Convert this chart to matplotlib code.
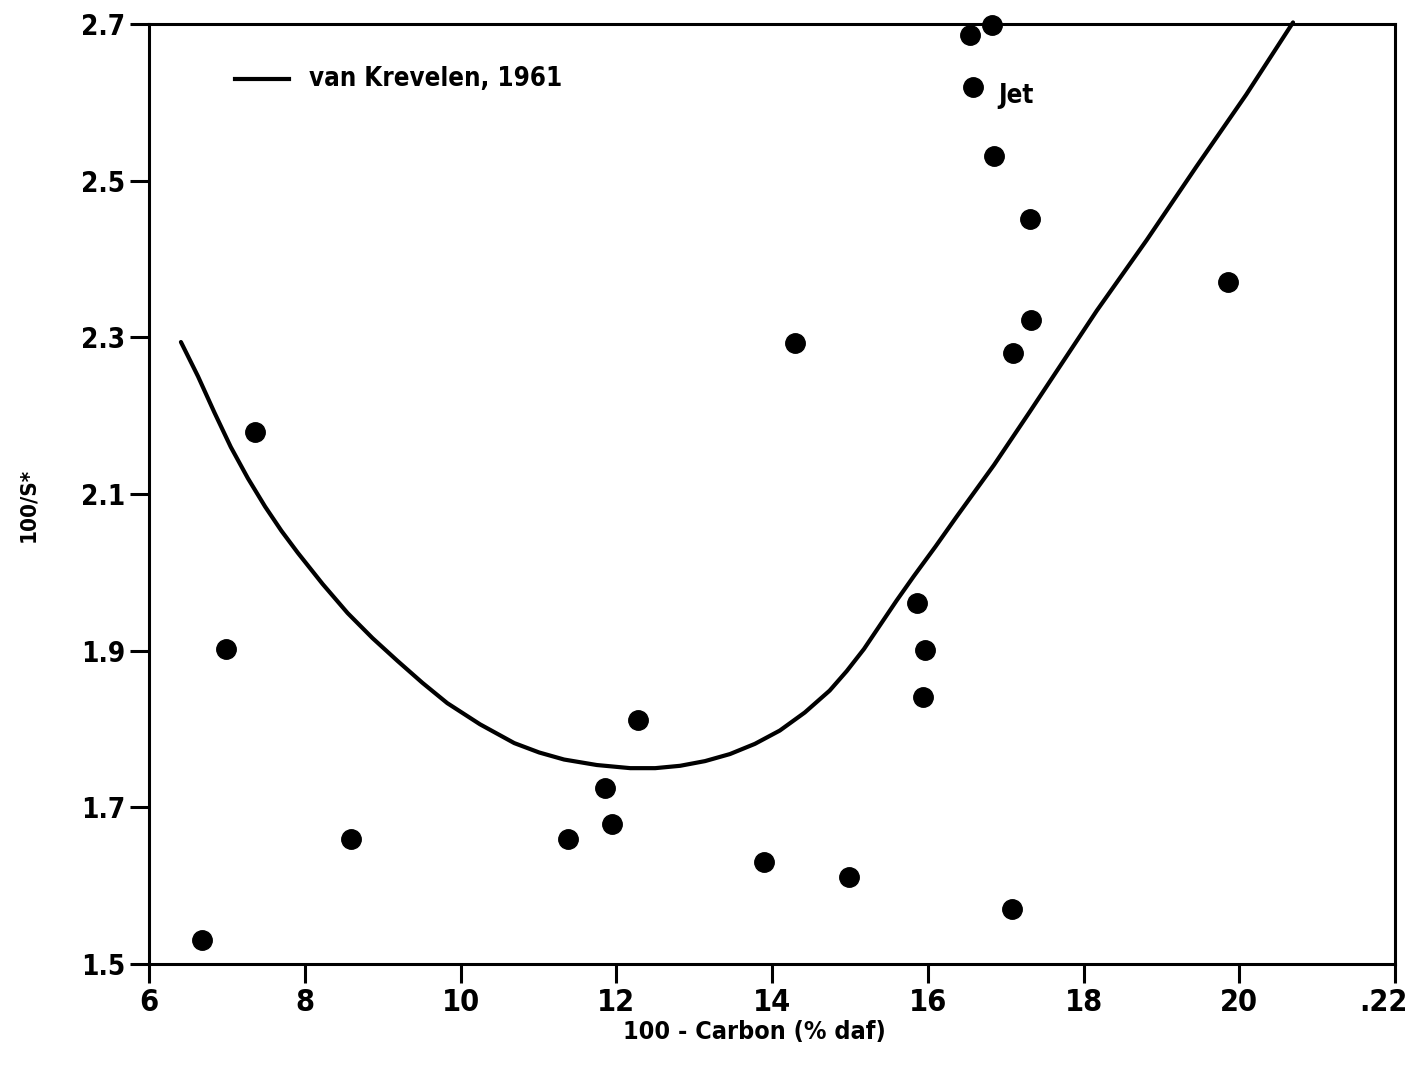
import matplotlib.pyplot as plt
from matplotlib.transforms import ScaledTranslation

# measured coals: 100 - carbon (% daf) vs 100/S*
carbon_diff = [6.68, 6.99, 7.36, 8.59, 11.38, 11.86, 11.95, 12.28, 13.90, 14.29,
               14.99, 15.86, 15.97, 15.94, 16.54, 16.83, 16.58, 16.85, 17.31,
               17.32, 17.09, 17.08, 19.86]
inv_s = [1.531, 1.902, 2.179, 1.660, 1.660, 1.725, 1.679, 1.812, 1.630, 2.293,
         1.611, 1.961, 1.901, 1.841, 2.686, 2.699, 2.620, 2.531, 2.451,
         2.322, 2.280, 1.570, 2.371]

# van Krevelen (1961) curve
vk_x = [6.41, 6.52, 6.63, 6.84, 7.05, 7.27, 7.49, 7.70, 7.91, 8.23, 8.55, 8.87,
        9.19, 9.51, 9.83, 10.25, 10.69, 11.01, 11.33, 11.75, 12.18, 12.50,
        12.82, 13.14, 13.46, 13.78, 14.10, 14.42, 14.74, 14.96, 15.18, 15.39,
        15.60, 15.82, 16.10, 16.37, 16.61, 16.85, 17.08, 17.31, 17.69, 18.17,
        18.81, 19.45, 20.09, 20.69]
vk_y = [2.294, 2.272, 2.250, 2.204, 2.160, 2.120, 2.084, 2.053, 2.025, 1.985,
        1.948, 1.916, 1.887, 1.859, 1.833, 1.806, 1.782, 1.770, 1.761, 1.754,
        1.750, 1.750, 1.753, 1.759, 1.768, 1.781, 1.798, 1.821, 1.849, 1.874,
        1.902, 1.933, 1.964, 1.995, 2.033, 2.071, 2.104, 2.137, 2.171, 2.205,
        2.262, 2.334, 2.424, 2.518, 2.610, 2.702]

jet_point = (16.58, 2.620)

x_ticks = [6, 8, 10, 12, 14, 16, 18, 20, 22]
x_tick_labels = ["6", "8", "10", "12", "14", "16", "18", "20", ".22"]
y_ticks = [1.5, 1.7, 1.9, 2.1, 2.3, 2.5, 2.7]

plt.rcParams["font.family"] = ["DejaVu Sans"]
plt.rcParams["font.weight"] = "bold"
plt.rcParams["font.stretch"] = "condensed"

fig = plt.figure(figsize=(14.15, 10.66), dpi=100)
ax = fig.add_axes([0.1053, 0.0957, 0.8806, 0.8818])

ax.plot(vk_x, vk_y, color="black", lw=3.0, solid_capstyle="round",
        solid_joinstyle="round", clip_on=False)
ax.plot(carbon_diff, inv_s, "o", color="black", ms=14, clip_on=False)

ax.text(jet_point[0] + 0.32, jet_point[1] - 0.012, "Jet", fontsize=18.5,
        fontweight="bold", ha="left", va="center")

# legend entry for the curve
ax.plot([7.1, 7.8], [2.63, 2.63], color="black", lw=3.0)
ax.text(8.05, 2.63, "van Krevelen, 1961", fontsize=18.5, fontweight="bold",
        ha="left", va="center")

ax.set_xlim(6, 22)
ax.set_ylim(1.5, 2.7)
ax.set_xticks(x_ticks)
ax.set_xticklabels(x_tick_labels)
ax.set_yticks(y_ticks)
ax.set_yticklabels([f"{v:.1f}" for v in y_ticks])
ax.tick_params(axis="both", direction="out", length=14, width=2.2, pad=3)
ax.tick_params(axis="x", labelsize=22)
ax.tick_params(axis="y", labelsize=20)
for spine in ax.spines.values():
    spine.set_linewidth(2.2)

# keep the last x label inside the figure
last = ax.get_xticklabels()[-1]
last.set_transform(last.get_transform() + ScaledTranslation(-8 / 72, 0, fig.dpi_scale_trans))

ax.set_xlabel("100 - Carbon (% daf)", fontsize=18, fontweight="bold")
ax.xaxis.set_label_coords(0.486, -0.06)
ax.set_ylabel("100/S*", fontsize=16, fontweight="bold")
ax.yaxis.set_label_coords(-0.089, 0.488)

fig.savefig("out.png", dpi=100)
